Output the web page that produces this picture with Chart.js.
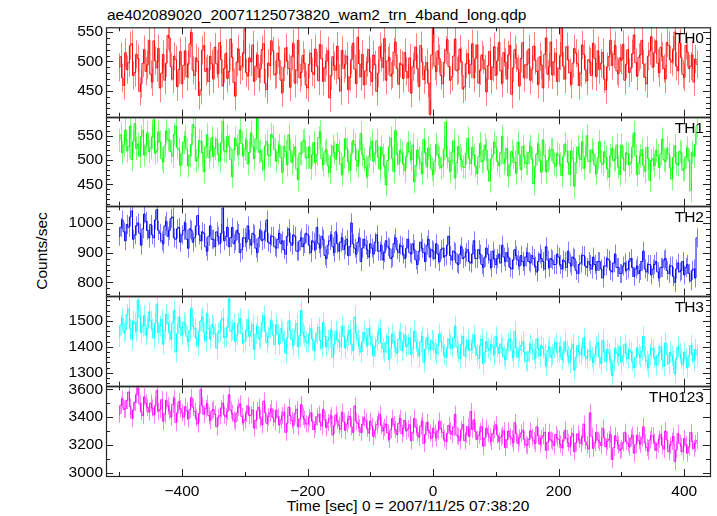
<!DOCTYPE html>
<html>
<head>
<meta charset="utf-8">
<script src="https://cdn.jsdelivr.net/npm/chart.js@4.4.1/dist/chart.umd.min.js"></script>
<style>
  html, body { margin: 0; padding: 0; background: #fff; }
  #wrap { position: relative; width: 717px; height: 516px; overflow: hidden; font-family: 'Liberation Sans', Arial, sans-serif; color: #000; }
  #wrap canvas { position: absolute; left: 0; }
  .txt { position: absolute; font-size: 15.5px; line-height: 16px; white-space: nowrap; }
  .band { right: 13px; text-align: right; }
</style>
</head>
<body>
<div id="wrap">
  <div class="txt" style="left:107px; top:7px;">ae402089020_20071125073820_wam2_trn_4band_long.qdp</div>
  <div class="txt" style="left:42px; top:251px; transform: translate(-50%, -50%) rotate(-90deg);">Counts/sec</div>
  <div class="txt" style="left:408px; top:498px; transform: translateX(-50%);">Time [sec] 0 = 2007/11/25 07:38:20</div>
</div>

<script>
// ---------- Data (2.5 s bins, t = -500 ... 420 s) ----------
const times = Array.from({ length: 369 }, (_, i) => -500 + 2.5 * i);

const th0 = [
  490, 508, 472, 459, 515, 486, 498, 527, 530, 476, 481, 512, 505, 449, 462, 497, 520, 483, 494, 536,
  478, 465, 535, 501, 489, 522, 455, 480, 512, 468, 497, 544, 540, 491, 470, 509, 503, 457, 486, 517,
  462, 493, 518, 474, 495, 530, 549, 485, 476, 506, 500, 442, 451, 519, 527, 483, 488, 466, 509, 496,
  470, 524, 496, 479, 532, 503, 458, 488, 514, 471, 483, 538, 507, 464, 441, 499, 521, 485, 492, 513,
  555, 481, 475, 506, 499, 528, 466, 492, 511, 473, 487, 520, 530, 463, 452, 497, 493, 535, 518, 477,
  479, 514, 502, 468, 447, 490, 523, 501, 488, 456, 509, 530, 463, 485, 536, 472, 481, 510, 497, 460,
  455, 495, 514, 482, 478, 521, 492, 467, 529, 504, 466, 489, 500, 518, 438, 476, 508, 493, 485, 526,
  471, 450, 519, 488, 495, 509, 452, 473, 503, 531, 487, 462, 541, 496, 474, 512, 460, 484, 498, 520,
  482, 466, 511, 494, 449, 480, 525, 507, 490, 539, 468, 501, 507, 475, 479, 516, 533, 488, 461, 497,
  494, 471, 515, 483, 472, 506, 446, 491, 502, 524, 488, 457, 527, 499, 469, 485, 498, 463, 410, 511,
  556, 492, 483, 518, 505, 476, 462, 498, 519, 537, 491, 468, 474, 509, 538, 484, 486, 521, 500, 453,
  457, 496, 513, 479, 495, 530, 472, 505, 528, 463, 484, 511, 503, 487, 448, 493, 517, 469, 490, 525,
  476, 501, 532, 484, 463, 515, 499, 470, 511, 527, 444, 489, 520, 506, 487, 458, 505, 532, 472, 494,
  495, 521, 468, 487, 526, 502, 483, 461, 508, 494, 455, 512, 540, 478, 491, 533, 477, 499, 514, 466,
  488, 509, 557, 492, 470, 525, 503, 481, 461, 497, 522, 514, 496, 459, 480, 528, 512, 486, 467, 503,
  499, 476, 531, 505, 474, 518, 486, 497, 515, 470, 452, 491, 508, 536, 493, 512, 527, 484, 479, 506,
  502, 529, 468, 495, 520, 481, 489, 513, 545, 498, 475, 507, 511, 536, 496, 473, 462, 509, 518, 542,
  490, 515, 535, 497, 481, 524, 509, 488, 470, 532, 527, 503, 499, 519, 550, 492, 484, 531, 507, 478,
  473, 527, 516, 488, 492, 511, 465, 504, 495
];

const th1 = [
  540, 552, 515, 531, 562, 519, 528, 570, 501, 538, 575, 524, 533, 508, 548, 561, 510, 529, 556, 517,
  525, 547, 583, 514, 519, 558, 537, 503, 496, 529, 560, 542, 541, 517, 508, 553, 570, 526, 522, 489,
  514, 536, 549, 521, 488, 509, 531, 573, 567, 498, 505, 540, 538, 515, 476, 527, 552, 505, 520, 546,
  507, 524, 543, 512, 498, 535, 580, 519, 517, 549, 529, 501, 466, 522, 545, 530, 511, 562, 534, 508,
  523, 541, 492, 515, 556, 527, 503, 544, 587, 516, 519, 498, 481, 529, 538, 510, 509, 553, 547, 521,
  498, 516, 531, 505, 474, 528, 518, 490, 552, 520, 495, 509, 527, 482, 460, 514, 513, 539, 541, 504,
  505, 527, 483, 511, 536, 494, 512, 546, 558, 503, 490, 517, 521, 488, 475, 508, 529, 515, 502, 533,
  518, 491, 470, 506, 544, 523, 496, 479, 513, 540, 532, 500, 487, 519, 555, 511, 501, 485, 466, 507,
  523, 538, 497, 514, 540, 506, 481, 527, 510, 488, 449, 499, 527, 545, 503, 476, 561, 512, 492, 520,
  514, 493, 478, 507, 536, 517, 500, 531, 455, 489, 521, 504, 494, 472, 542, 515, 486, 525, 509, 481,
  470, 498, 532, 512, 505, 484, 489, 523, 578, 506, 497, 477, 516, 539, 463, 495, 528, 510, 501, 486,
  485, 514, 545, 503, 493, 526, 510, 488, 472, 507, 534, 496, 499, 531, 520, 479, 457, 502, 511, 537,
  526, 497, 488, 515, 549, 493, 502, 524, 467, 490, 518, 506, 495, 473, 537, 512, 480, 528, 508, 494,
  492, 516, 529, 501, 451, 487, 513, 532, 498, 475, 541, 509, 476, 498, 505, 521, 522, 493, 487, 514,
  510, 492, 468, 507, 533, 518, 495, 470, 519, 503, 446, 495, 527, 511, 501, 538, 483, 506, 550, 497,
  497, 521, 514, 489, 472, 505, 538, 496, 491, 517, 506, 482, 465, 509, 524, 498, 502, 531, 486, 470,
  531, 504, 478, 515, 512, 490, 495, 527, 556, 508, 470, 494, 508, 521, 489, 477, 526, 503, 458, 499,
  503, 488, 520, 509, 484, 513, 543, 500, 497, 525, 512, 484, 461, 505, 530, 493, 490, 518, 515, 479,
  482, 507, 525, 498, 437, 516, 508, 531, 570
];

const th2 = [
  955, 985, 1010, 970, 940, 995, 985, 1020, 1040, 945, 960, 990, 1000, 965, 925, 980, 1030, 1005, 975, 950,
  995, 960, 950, 1010, 1045, 975, 965, 940, 930, 990, 1005, 955, 975, 1015, 1020, 950, 945, 980, 985, 935,
  960, 975, 1000, 945, 915, 980, 975, 935, 950, 990, 1025, 960, 940, 970, 965, 920, 905, 955, 990, 945,
  945, 920, 970, 955, 930, 965, 1050, 940, 955, 985, 920, 950, 985, 930, 940, 975, 965, 900, 910, 950,
  950, 935, 990, 945, 925, 965, 960, 915, 900, 950, 975, 940, 945, 970, 1010, 935, 930, 955, 955, 920,
  915, 945, 965, 930, 940, 910, 895, 955, 980, 935, 925, 960, 955, 905, 905, 940, 950, 920, 930, 965,
  960, 925, 900, 940, 935, 910, 985, 930, 915, 955, 945, 890, 880, 925, 940, 960, 920, 900, 970, 930,
  905, 935, 950, 910, 925, 945, 890, 920, 1000, 930, 915, 895, 935, 950, 870, 915, 945, 925, 910, 885,
  930, 915, 895, 935, 960, 905, 905, 925, 875, 900, 940, 920, 915, 880, 885, 930, 950, 910, 900, 925,
  920, 895, 880, 915, 945, 900, 895, 930, 910, 875, 860, 905, 935, 915, 900, 870, 925, 945, 885, 910,
  905, 880, 930, 895, 870, 910, 915, 885, 890, 925, 955, 890, 875, 905, 900, 865, 860, 895, 920, 880,
  885, 900, 910, 870, 865, 895, 940, 880, 880, 910, 895, 860, 850, 885, 915, 895, 875, 850, 905, 880,
  860, 880, 895, 865, 925, 885, 870, 900, 885, 850, 845, 875, 910, 890, 875, 855, 890, 870, 855, 885,
  900, 870, 865, 890, 880, 855, 835, 870, 895, 880, 870, 845, 920, 875, 850, 880, 875, 860, 860, 895,
  885, 860, 845, 875, 870, 850, 905, 865, 855, 885, 880, 840, 830, 860, 865, 890, 890, 855, 850, 870,
  860, 845, 885, 860, 840, 870, 870, 845, 815, 855, 855, 880, 875, 840, 835, 865, 895, 850, 850, 830,
  830, 855, 865, 840, 845, 870, 880, 850, 820, 845, 855, 830, 840, 870, 905, 845, 835, 860, 860, 825,
  845, 860, 870, 835, 815, 850, 850, 875, 880, 840, 830, 855, 855, 820, 800, 845, 865, 835, 840, 870,
  825, 850, 860, 830, 805, 840, 845, 815, 950
];

const th3 = [
  1440, 1485, 1510, 1455, 1465, 1525, 1545, 1470, 1430, 1500, 1490, 1460, 1580, 1515, 1455, 1480, 1520, 1445, 1470, 1535,
  1500, 1470, 1435, 1490, 1565, 1455, 1480, 1505, 1410, 1465, 1525, 1490, 1460, 1430, 1495, 1540, 1380, 1450, 1515, 1475,
  1445, 1495, 1485, 1440, 1420, 1465, 1550, 1480, 1470, 1435, 1405, 1460, 1500, 1515, 1455, 1425, 1530, 1470, 1430, 1485,
  1475, 1450, 1395, 1455, 1460, 1500, 1510, 1435, 1440, 1475, 1585, 1460, 1465, 1490, 1420, 1445, 1490, 1510, 1450, 1415,
  1425, 1465, 1505, 1440, 1460, 1485, 1390, 1450, 1480, 1430, 1435, 1495, 1520, 1460, 1415, 1440, 1470, 1500, 1445, 1410,
  1485, 1450, 1410, 1470, 1455, 1425, 1375, 1435, 1500, 1465, 1430, 1405, 1465, 1490, 1400, 1445, 1540, 1455, 1440, 1420,
  1415, 1445, 1470, 1430, 1385, 1420, 1450, 1475, 1425, 1395, 1495, 1440, 1400, 1425, 1435, 1465, 1360, 1410, 1460, 1430,
  1420, 1400, 1480, 1440, 1395, 1425, 1445, 1465, 1410, 1385, 1515, 1450, 1430, 1405, 1380, 1420, 1455, 1435, 1405, 1470,
  1440, 1410, 1365, 1400, 1425, 1450, 1470, 1415, 1395, 1380, 1415, 1440, 1350, 1395, 1450, 1420, 1400, 1375, 1430, 1455,
  1385, 1415, 1445, 1400, 1410, 1435, 1370, 1395, 1460, 1420, 1395, 1365, 1420, 1440, 1340, 1390, 1435, 1410, 1390, 1425,
  1415, 1390, 1375, 1405, 1450, 1420, 1400, 1370, 1360, 1395, 1430, 1410, 1395, 1435, 1480, 1400, 1380, 1355, 1410, 1440,
  1365, 1395, 1425, 1385, 1390, 1415, 1445, 1400, 1370, 1355, 1405, 1430, 1335, 1380, 1420, 1395, 1385, 1410, 1400, 1370,
  1440, 1400, 1375, 1410, 1395, 1365, 1350, 1390, 1415, 1430, 1385, 1360, 1460, 1395, 1360, 1385, 1405, 1420, 1380, 1345,
  1345, 1380, 1410, 1390, 1375, 1355, 1430, 1395, 1365, 1405, 1395, 1370, 1325, 1385, 1400, 1360, 1370, 1395, 1415, 1380,
  1380, 1400, 1350, 1375, 1420, 1385, 1365, 1340, 1390, 1410, 1310, 1360, 1405, 1380, 1370, 1395, 1435, 1365, 1355, 1385,
  1385, 1360, 1340, 1370, 1400, 1415, 1360, 1335, 1425, 1380, 1345, 1390, 1375, 1350, 1290, 1345, 1395, 1375, 1365, 1400,
  1340, 1365, 1410, 1375, 1355, 1390, 1380, 1345, 1320, 1360, 1395, 1370, 1360, 1385, 1440, 1365, 1345, 1320, 1370, 1395,
  1390, 1360, 1330, 1365, 1375, 1400, 1350, 1325, 1415, 1370, 1335, 1380, 1365, 1345, 1295, 1355, 1400, 1375, 1355, 1330,
  1380, 1355, 1320, 1365, 1405, 1375, 1345, 1390, 1370
];

const th0123 = [
  3420, 3485, 3530, 3455, 3460, 3520, 3580, 3475, 3390, 3450, 3505, 3560, 3610, 3495, 3440, 3410, 3545, 3500, 3470, 3435,
  3500, 3465, 3415, 3480, 3590, 3440, 3455, 3525, 3370, 3420, 3520, 3480, 3445, 3400, 3490, 3535, 3360, 3430, 3510, 3460,
  3430, 3400, 3475, 3445, 3385, 3455, 3540, 3470, 3440, 3395, 3350, 3425, 3600, 3480, 3420, 3460, 3495, 3410, 3375, 3445,
  3455, 3420, 3330, 3395, 3410, 3460, 3500, 3415, 3400, 3440, 3560, 3450, 3425, 3380, 3365, 3430, 3470, 3495, 3405, 3360,
  3380, 3425, 3480, 3410, 3415, 3450, 3320, 3375, 3445, 3470, 3390, 3345, 3515, 3430, 3355, 3400, 3430, 3460, 3395, 3365,
  3450, 3400, 3345, 3380, 3410, 3435, 3290, 3355, 3470, 3410, 3375, 3340, 3425, 3455, 3330, 3385, 3490, 3405, 3385, 3350,
  3350, 3395, 3430, 3370, 3310, 3345, 3400, 3420, 3365, 3335, 3455, 3380, 3325, 3360, 3390, 3410, 3270, 3340, 3415, 3375,
  3340, 3310, 3435, 3365, 3305, 3350, 3380, 3405, 3330, 3290, 3480, 3370, 3355, 3325, 3290, 3345, 3395, 3370, 3320, 3285,
  3370, 3335, 3260, 3305, 3345, 3380, 3420, 3340, 3300, 3325, 3350, 3285, 3240, 3310, 3390, 3345, 3310, 3275, 3355, 3390,
  3280, 3320, 3375, 3300, 3315, 3345, 3230, 3290, 3390, 3325, 3290, 3255, 3335, 3370, 3210, 3275, 3360, 3305, 3285, 3245,
  3320, 3285, 3250, 3300, 3370, 3315, 3290, 3245, 3225, 3280, 3340, 3300, 3275, 3325, 3420, 3270, 3260, 3230, 3310, 3345,
  3230, 3275, 3330, 3260, 3440, 3310, 3380, 3295, 3240, 3270, 3295, 3330, 3190, 3250, 3320, 3280, 3255, 3225, 3280, 3310,
  3345, 3270, 3225, 3255, 3270, 3300, 3180, 3235, 3300, 3260, 3245, 3215, 3360, 3280, 3210, 3250, 3285, 3305, 3240, 3200,
  3195, 3240, 3300, 3255, 3230, 3210, 3330, 3265, 3205, 3245, 3265, 3290, 3160, 3220, 3290, 3235, 3225, 3195, 3275, 3250,
  3240, 3205, 3180, 3230, 3305, 3245, 3215, 3185, 3260, 3280, 3150, 3215, 3280, 3240, 3210, 3255, 3350, 3225, 3200, 3170,
  3430, 3260, 3175, 3215, 3290, 3235, 3220, 3195, 3320, 3250, 3185, 3225, 3240, 3275, 3095, 3180, 3265, 3230, 3200, 3160,
  3170, 3215, 3290, 3225, 3210, 3185, 3250, 3270, 3140, 3200, 3270, 3230, 3205, 3250, 3330, 3215, 3180, 3155, 3235, 3265,
  3265, 3220, 3160, 3205, 3240, 3275, 3195, 3170, 3300, 3235, 3150, 3195, 3225, 3260, 3080, 3165, 3280, 3210, 3190, 3150,
  3245, 3200, 3140, 3185, 3290, 3225, 3175, 3210, 3230
];

// 1-sigma count-rate errors per band (counts/sec)
const errors = [24, 24, 32, 40, 62];

// ---------- Axis ticks ----------
const xMajorTicks = [-400, -200, 0, 200, 400];
const xMinorTicks = [-500, -300, -100, 100, 300];

const panels = [
  { name: 'TH0',    values: th0,    color: '#ff0000', light: 'rgba(255,0,0,0.5)',   min: 406,  max: 558,  ticks: [450, 500, 550],          minor: 10 },
  { name: 'TH1',    values: th1,    color: '#00ff00', light: 'rgba(0,255,0,0.5)',   min: 406,  max: 588,  ticks: [450, 500, 550],          minor: 10 },
  { name: 'TH2',    values: th2,    color: '#0000ff', light: 'rgba(0,0,255,0.5)',   min: 755,  max: 1056, ticks: [800, 900, 1000],         minor: 20 },
  { name: 'TH3',    values: th3,    color: '#00ffff', light: 'rgba(0,255,255,0.5)', min: 1250, max: 1595, ticks: [1300, 1400, 1500],       minor: 20 },
  { name: 'TH0123', values: th0123, color: '#ff00ff', light: 'rgba(255,0,255,0.5)', min: 2976, max: 3621, ticks: [3000, 3200, 3400, 3600], minor: 100 },
];

// panel boundaries in page pixels
const edges = [27, 117, 206, 296, 386, 476];
const PAD = 12;
const FONT = { family: "'Liberation Sans', Arial, sans-serif", size: 15.5 };

// ---------- Error bars (drawn under the line) ----------
const errorBarPlugin = {
  id: 'errbars',
  beforeDatasetsDraw(chart) {
    const { ctx, chartArea: a, scales } = chart;
    const o = chart.options.plugins.errbars;
    const ys = scales.y, xs = scales.x;
    ctx.save();
    ctx.beginPath();
    ctx.rect(a.left, a.top, a.right - a.left, a.bottom - a.top);
    ctx.clip();
    ctx.strokeStyle = o.color;
    ctx.lineWidth = 1;
    ctx.beginPath();
    o.values.forEach((v, k) => {
      const x = Math.round(xs.getPixelForValue(times[k])) + 0.5;
      ctx.moveTo(x, ys.getPixelForValue(v - o.err));
      ctx.lineTo(x, ys.getPixelForValue(v + o.err));
    });
    ctx.stroke();
    ctx.restore();
  }
};

// ---------- Frame + inward ticks (QDP style) ----------
const framePlugin = {
  id: 'frame',
  afterDraw(chart) {
    const { ctx, chartArea: a, scales } = chart;
    const xs = scales.x, ys = scales.y;
    const p = chart.options.plugins.frame;
    ctx.save();
    ctx.strokeStyle = '#222';
    ctx.lineWidth = 1;
    ctx.beginPath();
    const tick = (x1, y1, x2, y2) => { ctx.moveTo(x1, y1); ctx.lineTo(x2, y2); };

    // x ticks, top and bottom
    xMajorTicks.forEach(v => {
      const x = Math.round(xs.getPixelForValue(v)) + 0.5;
      tick(x, a.top, x, a.top + 7);
      tick(x, a.bottom, x, a.bottom - 7);
    });
    xMinorTicks.forEach(v => {
      const x = Math.round(xs.getPixelForValue(v)) + 0.5;
      tick(x, a.top, x, a.top + 4);
      tick(x, a.bottom, x, a.bottom - 4);
    });

    // y ticks, left and right
    const start = Math.ceil(p.min / p.minor) * p.minor;
    for (let v = start; v <= p.max; v += p.minor) {
      const y = Math.round(ys.getPixelForValue(v)) + 0.5;
      const len = p.ticks.includes(v) ? 7 : 4;
      tick(a.left, y, a.left + len, y);
      tick(a.right, y, a.right - len, y);
    }
    ctx.stroke();

    ctx.lineWidth = 1.2;
    ctx.strokeRect(a.left + 0.5, a.top + 0.5, a.right - a.left, a.bottom - a.top);
    ctx.restore();
  }
};

// ---------- Build panels ----------
const wrap = document.getElementById('wrap');

panels.forEach((p, i) => {
  const isLast = i === panels.length - 1;
  const top = edges[i] - PAD;
  const height = isLast ? 516 - top : (edges[i + 1] - edges[i]) + 2 * PAD;

  const canvas = document.createElement('canvas');
  canvas.width = 717;
  canvas.height = height;
  canvas.style.top = top + 'px';
  canvas.style.width = '717px';
  canvas.style.height = height + 'px';
  wrap.appendChild(canvas);

  const label = document.createElement('div');
  label.className = 'txt band';
  label.style.top = (edges[i] + 3) + 'px';
  label.textContent = p.name;
  wrap.appendChild(label);

  new Chart(canvas, {
    type: 'line',
    data: {
      datasets: [{
        data: p.values.map((v, k) => ({ x: times[k], y: v })),
        borderColor: p.color,
        borderWidth: 1,
        pointRadius: 0,
        stepped: 'middle',
        fill: false,
      }],
    },
    options: {
      responsive: false,
      maintainAspectRatio: false,
      animation: false,
      devicePixelRatio: 1,
      events: [],
      layout: { padding: { left: 0, right: 7, top: PAD, bottom: isLast ? 0 : PAD } },
      plugins: {
        legend: { display: false },
        tooltip: { enabled: false },
        errbars: { values: p.values, err: errors[i], color: p.light },
        frame: { min: p.min, max: p.max, ticks: p.ticks, minor: p.minor },
      },
      scales: {
        x: {
          type: 'linear',
          min: -521,
          max: 441,
          display: isLast,
          grid: { display: false, drawTicks: false },
          border: { display: false },
          afterBuildTicks: s => { s.ticks = xMajorTicks.map(v => ({ value: v })); },
          afterFit: s => { if (isLast) s.height = 40; },
          ticks: {
            color: '#000',
            font: FONT,
            padding: 6,
            maxRotation: 0,
            autoSkip: false,
            callback: v => (v < 0 ? '\u2212' + Math.abs(v) : String(v)),
          },
        },
        y: {
          min: p.min,
          max: p.max,
          grid: { display: false, drawTicks: false },
          border: { display: false },
          afterBuildTicks: s => { s.ticks = p.ticks.map(v => ({ value: v })); },
          afterFit: s => { s.width = 106; },
          ticks: { color: '#000', font: FONT, padding: 3, callback: v => String(v) },
        },
      },
    },
    plugins: [errorBarPlugin, framePlugin],
  });
});
</script>
</body>
</html>
